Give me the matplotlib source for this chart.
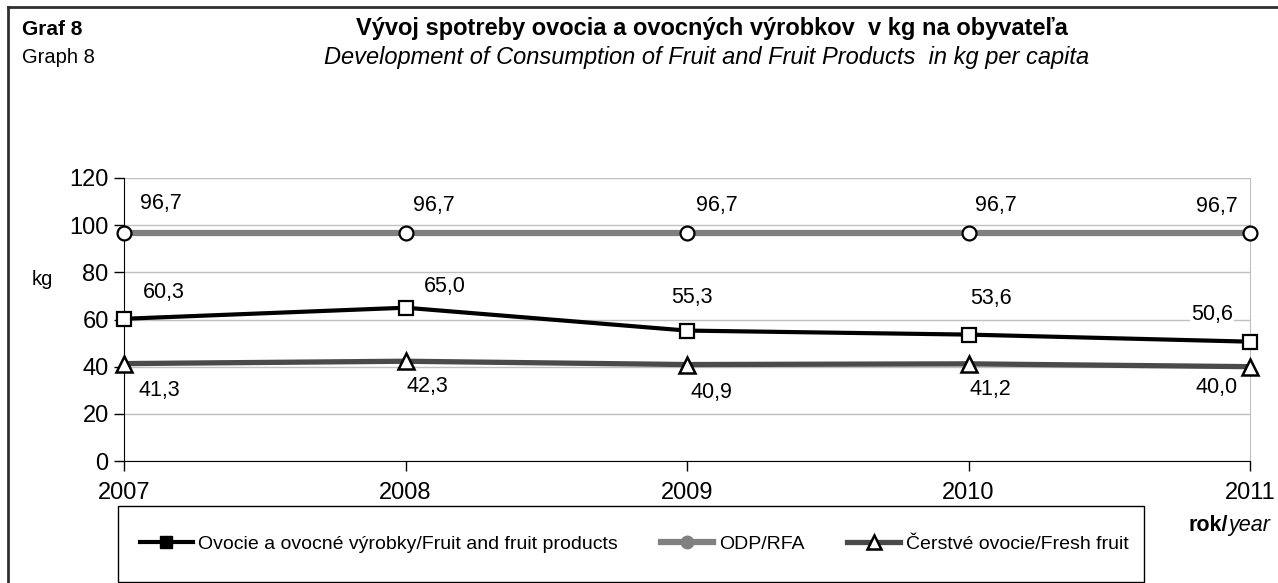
import matplotlib.pyplot as plt
from matplotlib.lines import Line2D
from matplotlib.patches import Rectangle

plt.rcParams['font.family'] = ['Liberation Sans', 'DejaVu Sans']

years = [2007, 2008, 2009, 2010, 2011]
fruit_products = [60.3, 65.0, 55.3, 53.6, 50.6]
odp = [96.7, 96.7, 96.7, 96.7, 96.7]
fresh_fruit = [41.3, 42.3, 40.9, 41.2, 40.0]

lbl_products = 'Ovocie a ovocné výrobky/Fruit and fruit products'
lbl_odp = 'ODP/RFA'
lbl_fresh = 'Čerstvé ovocie/Fresh fruit'

W, H = 1278, 583
fig = plt.figure(figsize=(W / 100, H / 100), dpi=100)
ax = fig.add_axes([124 / W, 1 - 461 / H, (1250 - 124) / W, (461 - 178) / H])

# lines
ax.plot(years, odp, color='#808080', lw=4.5, marker='o', ms=10,
        mfc='white', mec='black', mew=1.6, zorder=3, clip_on=False)
ax.plot(years, fruit_products, color='black', lw=3, marker='s', ms=10.5,
        mfc='white', mec='black', mew=1.6, zorder=4, clip_on=False)
ax.plot(years, fresh_fruit, color='#4a4a4a', lw=3.8, marker='^', ms=11,
        mfc='white', mec='black', mew=1.8, zorder=3, clip_on=False)

def fmt(v):
    return f'{v:.1f}'.replace('.', ',')

# data labels, offsets in pixels (right, up)
odp_off = [(37, 29), (28, 27), (30, 27), (27, 27), (-33, 26)]
prod_off = [(40, 26), (39, 21), (5, 33), (22, 36), (-38, 27)]
fresh_off = [(35, -27), (22, -25), (24, -28), (22, -26), (-33, -21)]
for i, x in enumerate(years):
    for vals, off in ((odp, odp_off), (fruit_products, prod_off), (fresh_fruit, fresh_off)):
        ax.annotate(fmt(vals[i]), (x, vals[i]), xytext=(off[i][0] * 0.72, off[i][1] * 0.72),
                    textcoords='offset points', ha='center', va='center', fontsize=15.5,
                    bbox=dict(facecolor='white', edgecolor='none', pad=1), zorder=5)

ax.set_xlim(2007, 2011)
ax.set_ylim(0, 120)
ax.set_yticks(range(0, 121, 20))
ax.set_xticks(years)
ax.set_xticklabels([str(y) for y in years])
ax.grid(axis='y', color='#c0c0c0', lw=1)
ax.set_axisbelow(True)
ax.tick_params(axis='both', labelsize=17, direction='out', length=7, width=1, color='black')
ax.tick_params(axis='x', pad=8)
ax.tick_params(axis='y', pad=4)
ax.spines['top'].set_visible(False)
ax.spines['right'].set_color('#c0c0c0')
ax.spines['left'].set_color('black')
ax.spines['bottom'].set_color('black')

# texts
fig.text(42 / W, 1 - 280 / H, 'kg', fontsize=14.5, ha='center', va='center')
fig.text(22 / W, 1 - 35 / H, 'Graf 8', fontsize=15, fontweight='bold', va='baseline')
fig.text(22 / W, 1 - 63 / H, 'Graph 8', fontsize=14.5, va='baseline')
fig.text(712 / W, 1 - 35 / H, 'Vývoj spotreby ovocia a ovocných výrobkov  v kg na obyvateľa',
         fontsize=17, fontweight='bold', ha='center', va='baseline')
fig.text(707 / W, 1 - 64 / H, 'Development of Consumption of Fruit and Fruit Products  in kg per capita',
         fontsize=17, style='italic', ha='center', va='baseline')
fig.text(1228 / W, 1 - 531 / H, 'rok/', fontsize=15.5, fontweight='bold', ha='right', va='baseline')
fig.text(1228 / W, 1 - 531 / H, 'year', fontsize=15.5, style='italic', ha='left', va='baseline')

# legend
handles = [
    Line2D([], [], color='black', lw=3, marker='s', ms=9, mfc='black', mec='black'),
    Line2D([], [], color='#808080', lw=4.5, marker='o', ms=9, mfc='#808080', mec='#808080'),
    Line2D([], [], color='#4a4a4a', lw=3.8, marker='^', ms=10, mfc='white', mec='black', mew=1.8),
]
fig.add_artist(Rectangle((118 / W, 1 - 582 / H), (1144 - 118) / W, (582 - 506) / H,
                         transform=fig.transFigure, facecolor='white', edgecolor='black', lw=1))
leg = fig.legend(handles, [lbl_products, lbl_odp, lbl_fresh], ncol=3,
                 loc='center left', bbox_to_anchor=(140 / W, 1 - 544 / H),
                 fontsize=14, frameon=False, borderpad=0, handlelength=2.7,
                 columnspacing=2.2, handletextpad=0.3, borderaxespad=0)

# outer frame (top and left)
fig.add_artist(Line2D([8 / W, 8 / W], [0, 1 - 7 / H], color='#303030', lw=2))
fig.add_artist(Line2D([8 / W, 1], [1 - 7 / H, 1 - 7 / H], color='#303030', lw=2))

fig.savefig('out.png', dpi=100)
